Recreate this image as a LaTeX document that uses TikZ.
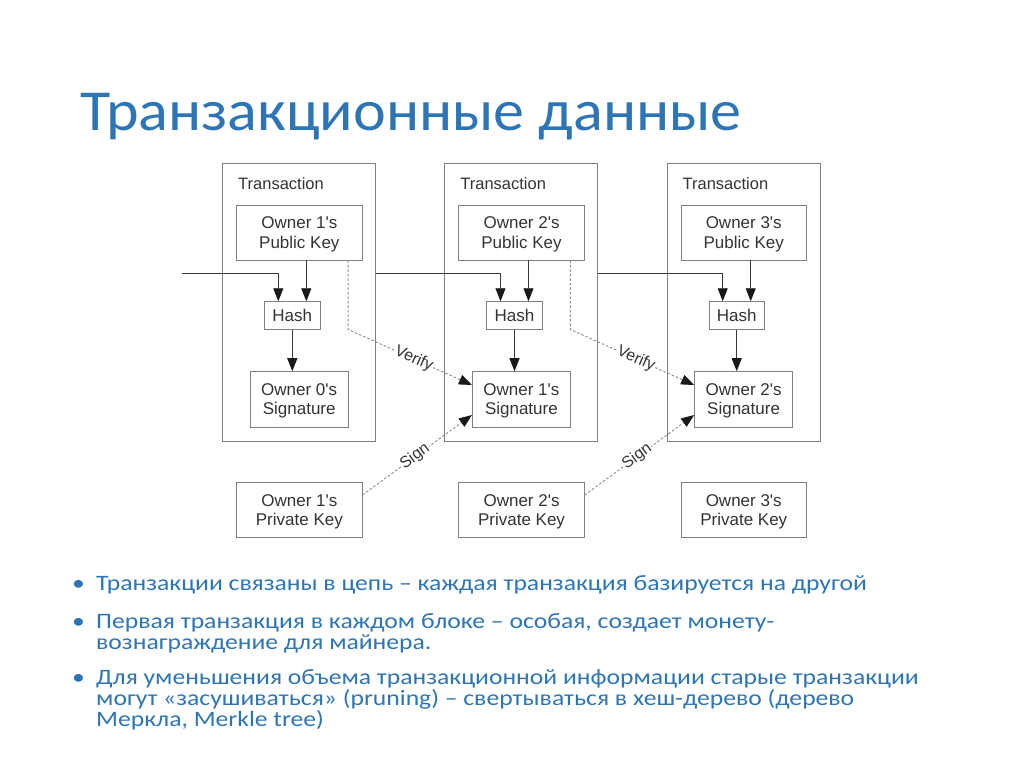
\documentclass[tikz,border=0pt]{standalone}
\usepackage{fontspec}
\setmainfont{Liberation Sans}
\newfontfamily\calibt[FakeStretch=1.07]{Carlito}
\newfontfamily\calibb[FakeStretch=1.165]{Carlito}
\usetikzlibrary{arrows.meta,calc}
\definecolor{ttl}{HTML}{2E75B6}
\definecolor{bul}{HTML}{2E75B6}
\definecolor{ln}{HTML}{3A3A3A}
\definecolor{bx}{HTML}{808080}
\definecolor{txt}{HTML}{333333}
\definecolor{dsh}{HTML}{8A8A8A}
\begin{document}
\begin{tikzpicture}[x=1pt,y=-1pt,
  txbox/.style={draw=bx, line width=0.9pt, minimum width=153pt, minimum height=278pt, inner sep=0pt},
  keybox/.style={draw=bx, line width=0.9pt, minimum width=125.3pt, minimum height=55pt, align=center, inner sep=0pt, text depth=-7pt, text=txt, font=\fontsize{17}{19.5}\selectfont},
  sigbox/.style={keybox, minimum width=98pt, minimum height=55.3pt},
  hashbox/.style={keybox, minimum width=55.3pt, minimum height=28pt, text depth=-5pt},
  txlbl/.style={anchor=base west, inner sep=0pt, text=txt, font=\fontsize{16.5}{19}\selectfont},
  arr/.style={draw=ln, line width=0.9pt, -{Triangle[length=13pt,width=10pt,color=black!90]}},
  darr/.style={draw=dsh, line width=0.9pt, dash pattern=on 2.5pt off 2pt, -{Triangle[length=13pt,width=10pt,color=black!90]}},
  dlbl/.style={sloped, fill=white, inner sep=1pt, text=txt, font=\fontsize{16}{18}\selectfont},
  bltxt/.style={anchor=base west, inner sep=0pt, text=bul, font=\calibb\fontsize{22}{24}\selectfont},
]
\useasboundingbox[fill=white] (0,0) rectangle (1024,767);

\node[anchor=base west, inner sep=0pt, text=ttl, font=\calibt\fontsize{58}{60}\selectfont] (title) at (80,131) {Транзакционные данные};

\foreach \i in {1,2,3} {
  \pgfmathsetmacro\cx{299.2+222.2*(\i-1)}
  \pgfmathtruncatemacro\j{\i-1}
  \node[txbox] (t\i) at (\cx,302) {};
  \node[txlbl] (tl\i) at (\cx-61.2,189.5) {Transaction};
  \node[keybox] (p\i) at (\cx+0.15,232.5) {Owner \i\textquotesingle s\\Public Key};
  \node[hashbox] (h\i) at (\cx-6.9,315.7) {Hash};
  \node[sigbox] (s\i) at (\cx,399.3) {Owner \j\textquotesingle s\\Signature};
  \node[keybox] (k\i) at (\cx+0.15,510.2) {Owner \i\textquotesingle s\\Private Key};
  \draw[arr] ($(h\i.north |- p\i.south)+(14,0)$) -- ($(h\i.north)+(14,0)$);
  \draw[arr] (h\i.south) -- (h\i.south |- s\i.north);
}

\coordinate (in0) at (182,273.3);
\draw[arr] (in0) -| ($(h1.north)+(-14,0)$);
\draw[arr] (t1.east |- in0) -| ($(h2.north)+(-14,0)$);
\draw[arr] (t2.east |- in0) -| ($(h3.north)+(-14,0)$);

\draw[darr] ($(p1.south east)+(-14.3,0)$) -- ($(p1.south east)+(-14.3,69)$)
  -- node[dlbl, pos=0.53] (v1) {Verify} ($(s2.west)+(0,-14.3)$);
\draw[darr] ($(p2.south east)+(-14.3,0)$) -- ($(p2.south east)+(-14.3,69)$)
  -- node[dlbl, pos=0.53] (v2) {Verify} ($(s3.west)+(0,-14.3)$);
\draw[darr] ($(k1.east)+(0,-15.2)$) -- node[dlbl, pos=0.48] (g1) {Sign} ($(s2.west)+(0,15.7)$);
\draw[darr] ($(k2.east)+(0,-15.2)$) -- node[dlbl, pos=0.48] (g2) {Sign} ($(s3.west)+(0,15.7)$);

\node[bltxt] (d1) at (72,590) {•};
\node[bltxt] (b1) at (96,590) {Транзакции связаны в цепь – каждая транзакция базируется на другой};
\node[bltxt] (d2) at (72,628) {•};
\node[bltxt] (b2a) at (96,628) {Первая транзакция в каждом блоке – особая, создает монету-};
\node[bltxt] (b2b) at (96,649) {вознаграждение для майнера.};
\node[bltxt] (d3) at (72,684) {•};
\node[bltxt] (b3a) at (96,684) {Для уменьшения объема транзакционной информации старые транзакции};
\node[bltxt] (b3b) at (96,705) {могут «засушиваться» (pruning) – свертываться в хеш-дерево (дерево};
\node[bltxt] (b3c) at (96,726) {Меркла, Merkle tree)};
\end{tikzpicture}
\end{document}
